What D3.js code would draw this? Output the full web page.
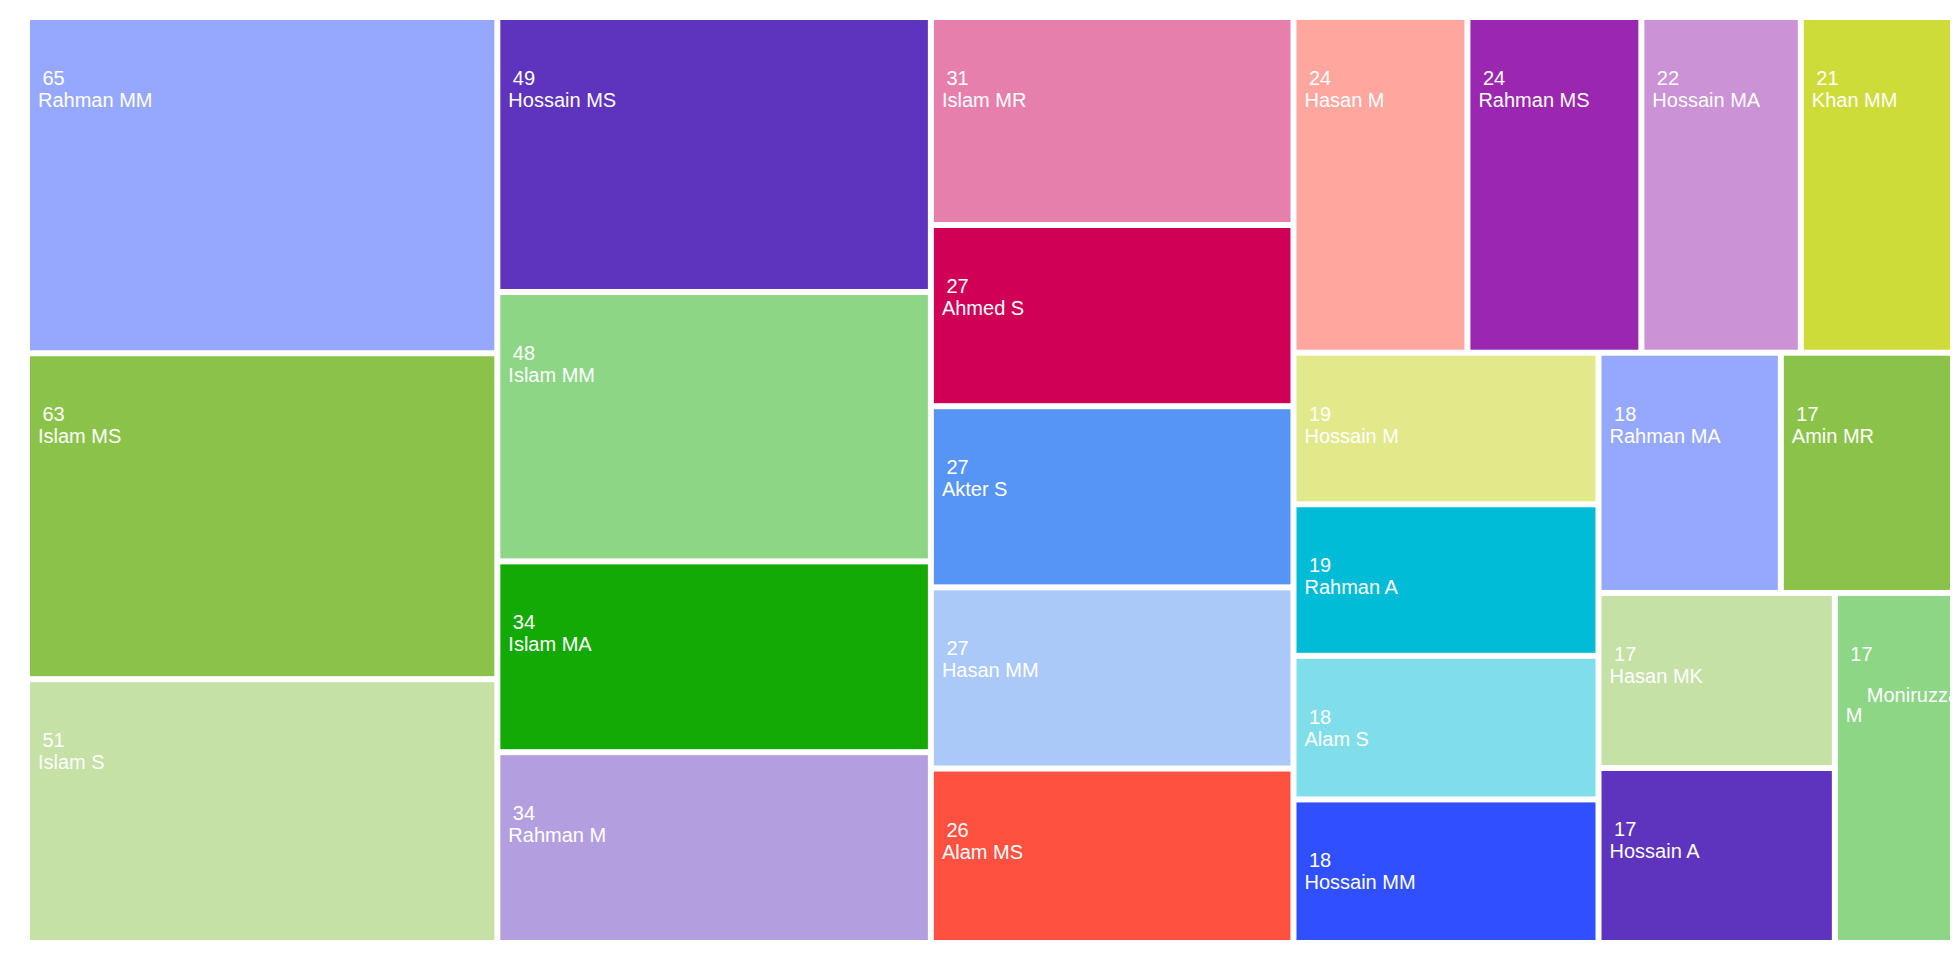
<!DOCTYPE html>

<head>
    <meta charset="UTF-8" />
    <style>
        body {
            margin: 0;
            padding: 0;
            background: #fff;
        }

        .label {
            font-family: "Liberation Sans", Arial, sans-serif;
            font-size: 20px;
            fill: #fff;
        }
    </style>
    <title>Treemap</title>
</head>

<svg width="1960" height="960"></svg>
<script src="https://cdn.jsdelivr.net/npm/d3@7"></script>

<script>
    // authors and their counts, in the order the tiles are laid out
    const names = [
        "Rahman MM", "Islam MS", "Islam S", "Hossain MS", "Islam MM", "Islam MA", "Rahman M",
        "Islam MR", "Ahmed S", "Akter S", "Hasan MM", "Alam MS", "Hasan M", "Rahman MS",
        "Hossain MA", "Khan MM", "Hossain M", "Rahman A", "Alam S", "Hossain MM",
        "Rahman MA", "Amin MR", "Hasan MK", "Hossain A", "Moniruzzaman M"
    ]
    const counts = [
        65, 63, 51, 49, 48, 34, 34,
        31, 27, 27, 27, 26, 24, 24,
        22, 21, 19, 19, 18, 18,
        18, 17, 17, 17, 17
    ]
    const palette = [
        "#96a8fe", "#8bc34a", "#c5e1a5", "#5e33be", "#8dd685", "#13aa05", "#b39fdf",
        "#e67fab", "#d00057", "#5795f5", "#aac9f9", "#ff5040", "#ffa69f", "#9b27b0",
        "#cb92d6", "#cedc39", "#e2e98a", "#00bcd6", "#80deeb", "#3050ff"
    ]

    var svg = d3.select("svg"),
        margin = { top: 20, right: 10, bottom: 20, left: 30 },
        width = 1960 - margin.left - margin.right,
        height = 960 - margin.top - margin.bottom

    var g = svg.append("g")
        .attr("transform", `translate(${margin.left},${margin.top})`)

    var color = d3.scaleOrdinal(palette)

    let data = { name: "root", children: names.map((n, i) => ({ name: n, value: counts[i], idx: i })) }

    var root = d3.hierarchy(data).sum(d => d.value || 0)

    d3.treemap()
        .tile(d3.treemapSquarify)
        .size([width, height])
        .paddingInner(6)(root)

    var leaf = g.selectAll(".leaf")
        .data(root.leaves())
        .enter().append("g")
        .attr("class", "leaf")
        .attr("transform", d => `translate(${d.x0},${d.y0})`)

    leaf.append("clipPath")
        .attr("id", d => "clip-" + d.data.idx)
        .append("rect")
        .attr("width", d => d.x1 - d.x0)
        .attr("height", d => d.y1 - d.y0)

    leaf.append("rect")
        .attr("width", d => d.x1 - d.x0)
        .attr("height", d => d.y1 - d.y0)
        .attr("fill", d => color(d.data.idx))

    var label = leaf.append("text")
        .attr("class", "label")
        .attr("clip-path", d => `url(#clip-${d.data.idx})`)

    // value line
    label.append("tspan")
        .attr("x", 12.5)
        .attr("y", 65)
        .text(d => d.data.value)

    // name line, wrapped when the tile is too narrow
    label.each(function (d) {
        const text = d3.select(this)
        const w = d.x1 - d.x0
        const probe = text.append("tspan").text(d.data.name)
        const fits = probe.node().getComputedTextLength() < w - 16
        probe.remove()
        if (fits) {
            text.append("tspan").attr("x", 8).attr("y", 87).text(d.data.name)
        } else {
            d.data.name.split(" ").forEach((word, i) => {
                text.append("tspan")
                    .attr("x", i === 0 ? 29 : 8)
                    .attr("y", 106 + i * 20)
                    .text(word)
            })
        }
    })
</script>
